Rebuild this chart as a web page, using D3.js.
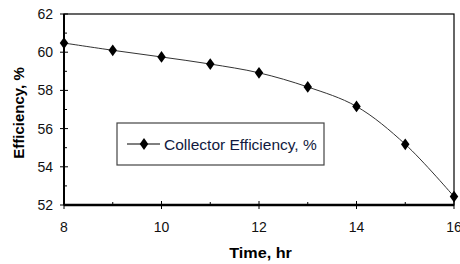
<!DOCTYPE html>
<html>
<head>
<meta charset="utf-8">
<script src="https://cdn.jsdelivr.net/npm/d3@7"></script>
<style>
  body { margin: 0; background: #fff; }
  svg text { font-family: "Liberation Sans", Arial, sans-serif; }
</style>
</head>
<body>
<svg id="chart" width="460" height="264"></svg>
<script>
// data
const hours = [8, 9, 10, 11, 12, 13, 14, 15, 16];
const efficiency = [60.48, 60.1, 59.75, 59.38, 58.92, 58.18, 57.16, 55.18, 52.44];
const xTicks = [8, 10, 12, 14, 16];
const yTicks = [52, 54, 56, 58, 60, 62];
const seriesName = "Collector Efficiency, %";

const svg = d3.select("#chart");
const m = {left: 64, top: 14, right: 454, bottom: 205};

const x = d3.scaleLinear().domain([8, 16]).range([m.left, m.right]);
const y = d3.scaleLinear().domain([52, 62]).range([m.bottom, m.top]);

// frame (top and right thin)
svg.append("rect")
    .attr("x", m.left).attr("y", m.top)
    .attr("width", m.right - m.left).attr("height", m.bottom - m.top)
    .attr("fill", "none").attr("stroke", "#000").attr("stroke-width", 1.2);

// minor ticks (inside)
d3.range(53, 62, 2).forEach(v => {
    svg.append("line").attr("x1", m.left).attr("x2", m.left + 3)
        .attr("y1", y(v)).attr("y2", y(v)).attr("stroke", "#000");
});
d3.range(9, 16, 2).forEach(v => {
    svg.append("line").attr("x1", x(v)).attr("x2", x(v))
        .attr("y1", m.bottom).attr("y2", m.bottom - 3).attr("stroke", "#000");
});

// major ticks (cross)
yTicks.forEach(v => {
    svg.append("line").attr("x1", m.left - 4).attr("x2", m.left + 4)
        .attr("y1", y(v)).attr("y2", y(v)).attr("stroke", "#000");
    svg.append("text").attr("x", m.left - 11).attr("y", y(v) + 5)
        .attr("text-anchor", "end").attr("font-size", 14).attr("fill", "#111")
        .text(v);
});
xTicks.forEach(v => {
    svg.append("line").attr("x1", x(v)).attr("x2", x(v))
        .attr("y1", m.bottom - 4).attr("y2", m.bottom + 4).attr("stroke", "#000");
    svg.append("text").attr("x", x(v)).attr("y", m.bottom + 27)
        .attr("text-anchor", "middle").attr("font-size", 14).attr("fill", "#111")
        .text(v);
});

// axis lines (thicker)
svg.append("line").attr("x1", m.left).attr("x2", m.left)
    .attr("y1", m.top).attr("y2", m.bottom).attr("stroke", "#000").attr("stroke-width", 2);
svg.append("line").attr("x1", m.left).attr("x2", m.right)
    .attr("y1", m.bottom).attr("y2", m.bottom).attr("stroke", "#000").attr("stroke-width", 2.5);

// axis titles
svg.append("text").attr("transform", "translate(260.5,257.5) scale(1.08,1)")
    .attr("text-anchor", "middle").attr("font-size", 15).attr("font-weight", "bold")
    .text("Time, hr");
svg.append("text").attr("transform", "translate(24,113) rotate(-90)")
    .attr("text-anchor", "middle").attr("font-size", 15).attr("font-weight", "bold")
    .text("Efficiency, %");

// series
const pts = hours.map((h, i) => [h, efficiency[i]]);
const line = d3.line().x(d => x(d[0])).y(d => y(d[1])).curve(d3.curveCatmullRom);
svg.append("path").attr("d", line(pts))
    .attr("fill", "none").attr("stroke", "#333").attr("stroke-width", 1);

const diamond = d3.symbol().type(d3.symbolDiamond).size(40);
svg.selectAll(".pt").data(pts).join("path")
    .attr("class", "pt")
    .attr("transform", d => `translate(${x(d[0])},${y(d[1])}) scale(1.25,1)`)
    .attr("d", diamond).attr("fill", "#000");

// legend
const lg = svg.append("g").attr("transform", "translate(117,123)");
lg.append("rect").attr("width", 207).attr("height", 42)
    .attr("fill", "#fff").attr("stroke", "#444").attr("stroke-width", 1.2);
lg.append("line").attr("x1", 10).attr("x2", 43).attr("y1", 21).attr("y2", 21)
    .attr("stroke", "#000");
lg.append("path").attr("transform", "translate(27,21) scale(1.25,1)")
    .attr("d", diamond).attr("fill", "#000");
lg.append("text").attr("x", 47).attr("y", 26.5)
    .attr("font-size", 15.5).attr("fill", "#111a40")
    .text(seriesName);
</script>
</body>
</html>
